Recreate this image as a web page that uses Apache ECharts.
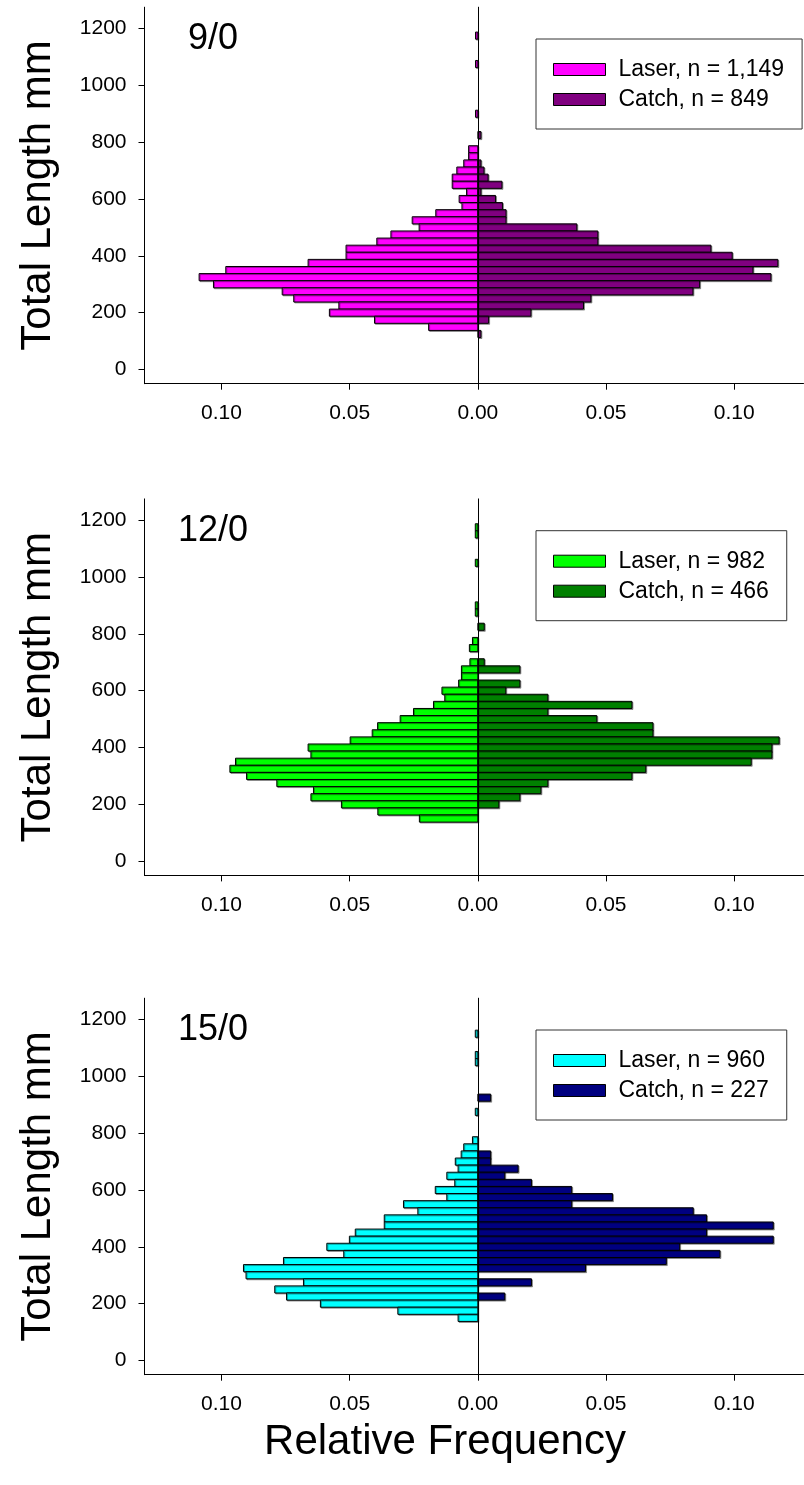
<!DOCTYPE html>
<html>
<head>
<meta charset="utf-8">
<script src="https://cdn.jsdelivr.net/npm/echarts@6/dist/echarts.min.js"></script>
<style>
  html, body { margin: 0; padding: 0; background: #fff; }
  #chart { width: 804px; height: 1485px; }
</style>
</head>
<body>
<div id="chart"></div>
<script>
const BIN = 25
const LENGTH_TICKS = [0, 200, 400, 600, 800, 1000, 1200]
const FREQ_TICKS = [-0.1, -0.05, 0, 0.05, 0.1]
const PANELS = ['9/0', '12/0', '15/0']
const LASER_NAMES = ['Laser, n = 1,149', 'Laser, n = 982', 'Laser, n = 960']
const CATCH_NAMES = ['Catch, n = 849', 'Catch, n = 466', 'Catch, n = 227']
const LASER_COLORS = ['#ff00ff', '#00ff00', '#00ffff']
const CATCH_COLORS = ['#800080', '#008000', '#000080']

// [bin centre (mm), relative frequency]
const laser9 = [[1175, 0.0009], [1075, 0.0009], [900, 0.0009], [775, 0.0036], [750, 0.0036], [725, 0.0055],
  [700, 0.0082], [675, 0.0100], [650, 0.0100], [625, 0.0044], [600, 0.0073], [575, 0.0062], [550, 0.0164],
  [525, 0.0256], [500, 0.0229], [475, 0.0339], [450, 0.0394], [425, 0.0514], [400, 0.0514], [375, 0.0662],
  [350, 0.0983], [325, 0.1087], [300, 0.1031], [275, 0.0763], [250, 0.0718], [225, 0.0542], [200, 0.0579],
  [175, 0.0403], [150, 0.0192]]
const catch9 = [[825, 0.0012], [725, 0.0012], [700, 0.0024], [675, 0.0040], [650, 0.0094], [625, 0.0012],
  [600, 0.0069], [575, 0.0096], [550, 0.0110], [525, 0.0110], [500, 0.0386], [475, 0.0468], [450, 0.0468],
  [425, 0.0909], [400, 0.0992], [375, 0.1170], [350, 0.1073], [325, 0.1143], [300, 0.0865], [275, 0.0839],
  [250, 0.0441], [225, 0.0412], [200, 0.0207], [175, 0.0042], [125, 0.0012]]

const laser12 = [[1175, 0.0010], [1150, 0.0010], [1050, 0.0010], [900, 0.0010], [875, 0.0010], [775, 0.0021],
  [750, 0.0033], [700, 0.0031], [675, 0.0064], [650, 0.0064], [625, 0.0075], [600, 0.0140], [575, 0.0129],
  [550, 0.0173], [525, 0.0251], [500, 0.0303], [475, 0.0391], [450, 0.0412], [425, 0.0498], [400, 0.0662],
  [375, 0.0651], [350, 0.0945], [325, 0.0967], [300, 0.0902], [275, 0.0784], [250, 0.0641], [225, 0.0651],
  [200, 0.0532], [175, 0.0390], [150, 0.0228]]
const catch12 = [[825, 0.0025], [700, 0.0025], [675, 0.0164], [625, 0.0164], [600, 0.0109], [575, 0.0273],
  [550, 0.0601], [525, 0.0273], [500, 0.0464], [475, 0.0683], [450, 0.0683], [425, 0.1175], [400, 0.1147],
  [375, 0.1147], [350, 0.1066], [325, 0.0655], [300, 0.0601], [275, 0.0273], [250, 0.0246], [225, 0.0164],
  [200, 0.0082]]

const laser15 = [[1150, 0.0010], [1075, 0.0010], [1050, 0.0010], [875, 0.0010], [775, 0.0021], [750, 0.0055],
  [725, 0.0065], [700, 0.0088], [675, 0.0077], [650, 0.0121], [625, 0.0090], [600, 0.0166], [575, 0.0121],
  [550, 0.0290], [525, 0.0234], [500, 0.0365], [475, 0.0365], [450, 0.0478], [425, 0.0501], [400, 0.0589],
  [375, 0.0523], [350, 0.0758], [325, 0.0914], [300, 0.0904], [275, 0.0680], [250, 0.0792], [225, 0.0746],
  [200, 0.0614], [175, 0.0312], [150, 0.0077]]
const catch15 = [[925, 0.0050], [725, 0.0050], [700, 0.0050], [675, 0.0157], [650, 0.0105], [625, 0.0209],
  [600, 0.0366], [575, 0.0525], [550, 0.0366], [525, 0.0840], [500, 0.0892], [475, 0.1152], [450, 0.0892],
  [425, 0.1152], [400, 0.0787], [375, 0.0944], [350, 0.0735], [325, 0.0420], [275, 0.0209], [225, 0.0105]]

const LASER = [laser9, laser12, laser15]
const CATCH = [catch9, catch12, catch15]

const FONT = '"Liberation Sans", Arial, Helvetica, sans-serif'
const GRID_TOPS = [7.2, 498.9, 998.2]
const GRID_H = 376.5

function barSeries(name, color, pairs, sign, i) {
  return {
    type: 'custom',
    name,
    xAxisIndex: i,
    yAxisIndex: 2 * i,
    itemStyle: { color },
    encode: { x: 0, y: 1 },
    data: pairs.map(p => [sign * p[1], p[0]]),
    renderItem(params, api) {
      const lo = api.coord([0, api.value(1) - BIN / 2])
      const hi = api.coord([api.value(0), api.value(1) + BIN / 2])
      return {
        type: 'rect',
        shape: {
          x: Math.min(lo[0], hi[0]),
          y: hi[1],
          width: Math.abs(hi[0] - lo[0]),
          height: lo[1] - hi[1]
        },
        style: {
          fill: color, stroke: '#000', lineWidth: 1,
          shadowColor: 'rgba(0,0,0,0.35)', shadowOffsetX: 1, shadowOffsetY: 1, shadowBlur: 0
        }
      }
    }
  }
}

const grid = [], xAxis = [], yAxis = [], series = [], legend = [], graphic = []
const axisText = { fontSize: 21, color: '#000', fontFamily: FONT }

PANELS.forEach((label, i) => {
  const top = GRID_TOPS[i]
  // the axis runs past the right edge in the source, so stop it at the page edge
  grid.push({ left: 144.5, right: 0.5, top, height: GRID_H })
  xAxis.push({
    type: 'value', gridIndex: i, min: -0.13, max: 0.127,
    axisLine: { onZero: false, lineStyle: { color: '#000' } },
    axisTick: { customValues: FREQ_TICKS, length: 6, lineStyle: { color: '#000' } },
    axisLabel: Object.assign({ customValues: FREQ_TICKS, margin: 19, formatter: v => Math.abs(v).toFixed(2) }, axisText),
    splitLine: { show: false }
  })
  yAxis.push({
    type: 'value', gridIndex: i, min: -50, max: 1275, position: 'left',
    axisLine: { show: true, onZero: false, lineStyle: { color: '#000' } },
    axisTick: { show: true, customValues: LENGTH_TICKS, length: 6, lineStyle: { color: '#000' } },
    axisLabel: Object.assign({ customValues: LENGTH_TICKS, margin: 18, formatter: v => String(v) }, axisText),
    splitLine: { show: false }
  })
  // zero line
  yAxis.push({
    type: 'value', gridIndex: i, min: -50, max: 1275, z: 5,
    axisLine: { show: true, onZero: true, lineStyle: { color: '#000' } },
    axisTick: { show: false }, axisLabel: { show: false }, splitLine: { show: false }
  })
  series.push(barSeries(LASER_NAMES[i], LASER_COLORS[i], LASER[i], -1, i))
  series.push(barSeries(CATCH_NAMES[i], CATCH_COLORS[i], CATCH[i], 1, i))
  legend.push({
    data: [LASER_NAMES[i], CATCH_NAMES[i]],
    orient: 'vertical', left: 536, top: top + 31.8,
    padding: [19, 18, 18, 17], itemGap: 7, itemWidth: 52, itemHeight: 12,
    icon: 'rect', borderColor: '#333', borderWidth: 1,
    itemStyle: { borderColor: '#000', borderWidth: 1 },
    textStyle: { fontSize: 23, color: '#000', fontFamily: FONT, padding: [0, 0, 0, 8] },
    selectedMode: false
  })
  graphic.push({
    type: 'text', x: 213, y: top + 31.8,
    style: { text: label, font: '36px ' + FONT, fill: '#000', align: 'center', verticalAlign: 'middle', textAlign: 'center', textVerticalAlign: 'middle' }
  })
  graphic.push({
    type: 'text', x: 38, y: top + GRID_H / 2, rotation: Math.PI / 2,
    style: { text: 'Total Length mm', font: '42px ' + FONT, fill: '#000', align: 'center', verticalAlign: 'middle', textAlign: 'center', textVerticalAlign: 'middle' }
  })
})

graphic.push({
  type: 'text', x: 445, y: 1442,
  style: { text: 'Relative Frequency', font: '42px ' + FONT, fill: '#000', align: 'center', verticalAlign: 'middle', textAlign: 'center', textVerticalAlign: 'middle' }
})

const chart = echarts.init(document.getElementById('chart'), null, { renderer: 'canvas' })
chart.setOption({
  animation: false,
  backgroundColor: '#ffffff',
  grid, xAxis, yAxis, series, legend, graphic
})
</script>
</body>
</html>
